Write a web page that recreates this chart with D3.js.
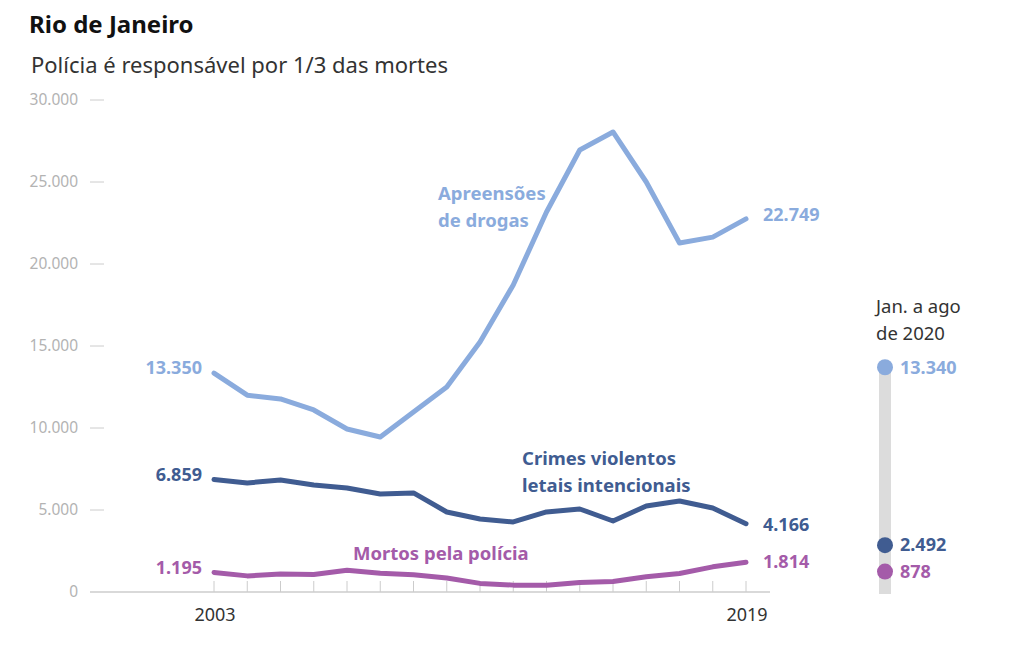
<!DOCTYPE html>
<html>
<head>
<meta charset="utf-8">
<script src="https://cdn.jsdelivr.net/npm/d3@7"></script>
<style>
  body { margin: 0; background: #fff; }
  svg { font-family: "Noto Sans", sans-serif; }
</style>
</head>
<body>
<div id="chart"></div>
<script>
// Dados (Rio de Janeiro, 2003-2019)
const years = d3.range(2003, 2020);
const apreensoes = [13350, 12000, 11770, 11100, 9940, 9450, 10980, 12500, 15250, 18720, 23170, 26950, 28050, 25000, 21280, 21640, 22749];
const cvli = [6859, 6650, 6830, 6520, 6340, 5980, 6040, 4880, 4450, 4270, 4880, 5060, 4330, 5240, 5550, 5120, 4166];
const mortos = [1195, 983, 1098, 1063, 1330, 1137, 1048, 855, 524, 419, 416, 584, 645, 925, 1127, 1534, 1814];
const yTicks = [0, 5000, 10000, 15000, 20000, 25000, 30000];
const xLabels = [2003, 2019];
// Jan. a ago de 2020
const parcial2020 = [13340, 2492, 878];

const colors = { apreensoes: "#8aabdd", cvli: "#405c91", mortos: "#a45ba9" };

const width = 1023, height = 653;
const svg = d3.select("#chart").append("svg")
    .attr("width", width).attr("height", height);

const fmt = d3.formatLocale({ decimal: ",", thousands: ".", grouping: [3], currency: ["R$", ""] }).format(",d");

// Titulo
svg.append("text").attr("x", 29).attr("y", 33)
    .attr("font-size", 24).attr("font-weight", "bold").attr("fill", "#111")
    .text("Rio de Janeiro");
svg.append("text").attr("x", 31).attr("y", 73)
    .attr("font-size", 22).attr("fill", "#333")
    .text("Polícia é responsável por 1/3 das mortes");

const x = d3.scaleLinear().domain([2003, 2019]).range([214, 746]);
const y = d3.scaleLinear().domain([0, 30000]).range([592, 100]);

// Eixo Y
const yAxis = svg.append("g");
yAxis.selectAll("text").data(yTicks).enter().append("text")
    .attr("x", 78).attr("y", d => y(d)).attr("dy", "0.35em")
    .attr("text-anchor", "end").attr("font-size", 15.5).attr("fill", "#b3b3b3")
    .text(d => fmt(d));
yAxis.selectAll("line").data(yTicks.filter(d => d > 0)).enter().append("line")
    .attr("x1", 90).attr("x2", 104).attr("y1", d => y(d)).attr("y2", d => y(d))
    .attr("stroke", "#ccc").attr("stroke-width", 1);

// Eixo X
svg.append("line").attr("x1", 90).attr("x2", 770).attr("y1", y(0)).attr("y2", y(0))
    .attr("stroke", "#ccc").attr("stroke-width", 1.5);
svg.append("g").selectAll("line").data(years).enter().append("line")
    .attr("x1", d => x(d)).attr("x2", d => x(d))
    .attr("y1", y(0) - 11).attr("y2", y(0))
    .attr("stroke", "#ccc").attr("stroke-width", 1);
svg.append("g").selectAll("text").data(xLabels).enter().append("text")
    .attr("x", d => x(d) + 1).attr("y", 621)
    .attr("text-anchor", "middle").attr("font-size", 18).attr("fill", "#333")
    .text(d => d);

// Linhas
const line = d3.line().x((d, i) => x(years[i])).y(d => y(d));
const series = [
    { key: "apreensoes", values: apreensoes },
    { key: "cvli", values: cvli },
    { key: "mortos", values: mortos }
];
svg.append("g").selectAll("path").data(series).enter().append("path")
    .attr("d", d => line(d.values))
    .attr("fill", "none")
    .attr("stroke", d => colors[d.key])
    .attr("stroke-width", 5)
    .attr("stroke-linejoin", "round")
    .attr("stroke-linecap", "round");

// Rotulos de inicio e fim
const labels = svg.append("g").attr("font-size", 18).attr("font-weight", "bold");
const startOffset = { apreensoes: -5, cvli: -5, mortos: -5 };
const endOffset = { apreensoes: -4, cvli: 1, mortos: -1 };
series.forEach(s => {
    labels.append("text")
        .attr("x", x(2003) - 12).attr("y", y(s.values[0]) + startOffset[s.key])
        .attr("dy", "0.35em").attr("text-anchor", "end")
        .attr("fill", colors[s.key]).text(fmt(s.values[0]));
    labels.append("text")
        .attr("x", x(2019) + 17).attr("y", y(s.values[s.values.length - 1]) + endOffset[s.key])
        .attr("dy", "0.35em")
        .attr("fill", colors[s.key]).text(fmt(s.values[s.values.length - 1]));
});

// Nomes das series
const names = [
    { key: "apreensoes", lines: ["Apreensões", "de drogas"], x: 438, y: 200 },
    { key: "cvli", lines: ["Crimes violentos", "letais intencionais"], x: 522, y: 465 },
    { key: "mortos", lines: ["Mortos pela polícia"], x: 353, y: 560 }
];
names.forEach(n => {
    const t = svg.append("text").attr("x", n.x).attr("y", n.y)
        .attr("font-size", 18.5).attr("font-weight", "bold").attr("fill", colors[n.key]);
    n.lines.forEach((l, i) => t.append("tspan").attr("x", n.x).attr("dy", i ? 27 : 0).text(l));
});

// Painel 2020
const px = 885;
const py = d3.scaleLinear().domain([0, 30000]).range([586, 94]);
svg.append("text").attr("x", 876).attr("y", 313)
    .attr("font-size", 18.5).attr("fill", "#333")
    .selectAll("tspan").data(["Jan. a ago", "de 2020"]).enter().append("tspan")
    .attr("x", 876).attr("dy", (d, i) => i ? 27 : 0).text(d => d);
svg.append("rect").attr("x", px - 6).attr("width", 12)
    .attr("y", py(parcial2020[0])).attr("height", 594 - py(parcial2020[0]))
    .attr("fill", "#dcdcdc");
const keys = ["apreensoes", "cvli", "mortos"];
svg.append("g").selectAll("circle").data(parcial2020).enter().append("circle")
    .attr("cx", px).attr("cy", d => py(d)).attr("r", 8)
    .attr("fill", (d, i) => colors[keys[i]]);
svg.append("g").selectAll("text").data(parcial2020).enter().append("text")
    .attr("x", px + 15).attr("y", d => py(d)).attr("dy", "0.35em")
    .attr("font-size", 18).attr("font-weight", "bold")
    .attr("fill", (d, i) => colors[keys[i]])
    .text(d => fmt(d));
</script>
</body>
</html>
